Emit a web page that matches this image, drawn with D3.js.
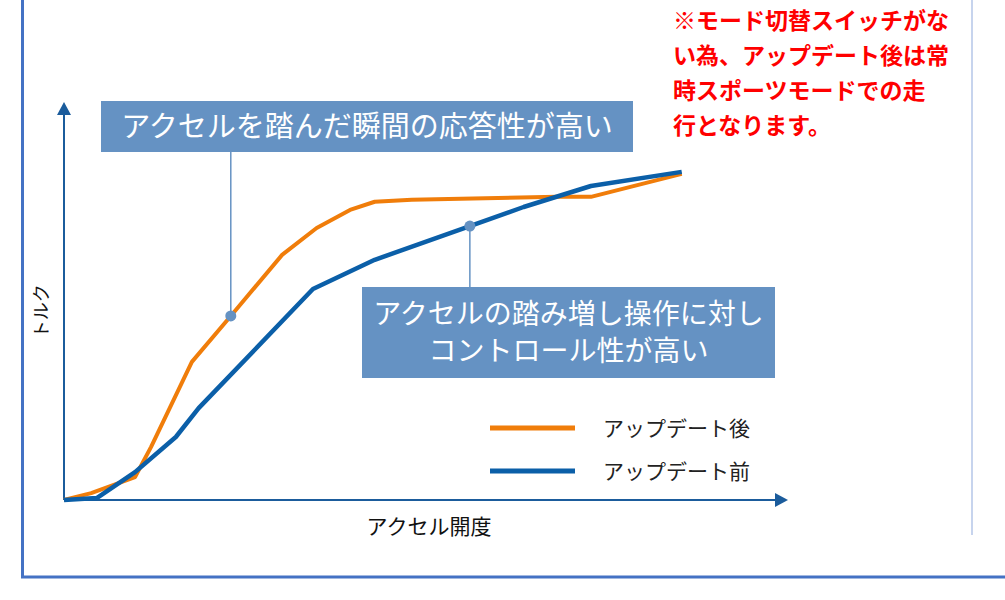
<!DOCTYPE html>
<html><head><meta charset="utf-8">
<script src="https://cdn.jsdelivr.net/npm/d3@7"></script>
<style>html,body{margin:0;padding:0;background:#fff;}svg{display:block;}</style>
</head><body>
<svg id="c" width="1005" height="600"></svg>
<script>
// Data: accelerator opening (0-100) vs torque (0-100)
const afterX = [0, 4.4, 11.5, 14.1, 20.7, 27.0, 35.3, 40.9, 46.3, 50.3, 56.3, 79.8, 85.3, 100];
const afterY = [0, 2.1, 7.0, 16.2, 42.1, 56.1, 74.7, 82.9, 88.4, 90.9, 91.5, 92.4, 92.4, 99.4];
const beforeX = [0, 5.3, 11.5, 18.1, 21.8, 40.3, 50.3, 65.7, 74.4, 85.3, 100];
const beforeY = [0, 0.6, 8.5, 19.2, 28.0, 64.3, 73.2, 83.5, 89.3, 95.7, 100];
const seriesNames = ["アップデート後", "アップデート前"];
const xAxisLabel = "アクセル開度";
const yAxisLabel = "トルク";
const callout1 = ["アクセルを踏んだ瞬間の応答性が高い"];
const callout1Point = [27.0, 56.1];
const callout2 = ["アクセルの踏み増し操作に対し", "コントロール性が高い"];
const callout2Point = [65.7, 83.5];
const noteLines = ["※モード切替スイッチがな", "い為、アップデート後は常", "時スポーツモードでの走", "行となります。"];

const svg = d3.select("#c");
const orange = "#F07D0A", blue = "#0B5FA8", axisC = "#1B5C9C", boxC = "#6592C3";

const x = d3.scaleLinear().domain([0, 117.2]).range([64, 788]);
const y = d3.scaleLinear().domain([0, 121.3]).range([500, 102]);

// frame
svg.append("line").attr("x1", 22.5).attr("y1", 0).attr("x2", 22.5).attr("y2", 578).attr("stroke", "#4472C4").attr("stroke-width", 3);
svg.append("line").attr("x1", 21).attr("y1", 577).attr("x2", 1005).attr("y2", 577).attr("stroke", "#4472C4").attr("stroke-width", 3);
svg.append("line").attr("x1", 972).attr("y1", 0).attr("x2", 972).attr("y2", 535).attr("stroke", "#8FA9DC").attr("stroke-width", 1);

// axes
const yMax = y.domain()[1], xMax = x.domain()[1];
svg.append("line").attr("x1", x(0)).attr("y1", y(0)).attr("x2", x(0)).attr("y2", y(yMax) + 10).attr("stroke", axisC).attr("stroke-width", 2);
svg.append("line").attr("x1", x(0)).attr("y1", y(0)).attr("x2", x(xMax) - 10).attr("y2", y(0)).attr("stroke", axisC).attr("stroke-width", 2);
svg.append("path").attr("d", `M${x(0)},${y(yMax)} l-7,13 l14,0 z`).attr("fill", axisC);
svg.append("path").attr("d", `M${x(xMax)},${y(0)} l-13,-7 l0,14 z`).attr("fill", axisC);

const jp = "'Noto Sans CJK JP', 'Noto Sans', sans-serif";
svg.append("text").attr("transform", `translate(48,${y(57.5)}) rotate(-90)`).attr("text-anchor", "middle")
  .attr("font-family", jp).attr("font-size", 18).attr("fill", "#111").text(yAxisLabel);
svg.append("text").attr("x", 429).attr("y", 534).attr("text-anchor", "middle")
  .attr("font-family", jp).attr("font-size", 21).attr("fill", "#111").text(xAxisLabel);

// lines
const line = d3.line().x(d => x(d[0])).y(d => y(d[1]));
const after = afterX.map((v, i) => [v, afterY[i]]);
const before = beforeX.map((v, i) => [v, beforeY[i]]);
svg.append("path").datum(after).attr("d", line).attr("fill", "none").attr("stroke", orange).attr("stroke-width", 4).attr("stroke-linejoin", "round");
svg.append("path").datum(before).attr("d", line).attr("fill", "none").attr("stroke", blue).attr("stroke-width", 4.5).attr("stroke-linejoin", "round");

// callouts
function callout(bx, by, bw, bh, lines, pt, lineTop, fs) {
  svg.append("line").attr("x1", x(pt[0])).attr("y1", y(pt[1])).attr("x2", x(pt[0])).attr("y2", lineTop).attr("stroke", boxC).attr("stroke-width", 1.5);
  svg.append("circle").attr("cx", x(pt[0])).attr("cy", y(pt[1])).attr("r", 5.5).attr("fill", boxC);
  svg.append("rect").attr("x", bx).attr("y", by).attr("width", bw).attr("height", bh).attr("fill", boxC);
  const lh = fs * 1.3;
  const start = by + bh / 2 - (lines.length - 1) * lh / 2;
  lines.forEach((t, i) => {
    svg.append("text").attr("x", bx + bw / 2).attr("y", start + i * lh).attr("dy", "0.36em").attr("text-anchor", "middle")
      .attr("font-family", jp).attr("font-size", fs).attr("fill", "#fff").text(t);
  });
}
callout(101, 101, 532, 51, callout1, callout1Point, 152, 29);
callout(362, 287, 413, 91, callout2, callout2Point, 287, 28);

// legend
const leg = [[seriesNames[0], orange, 428], [seriesNames[1], blue, 471]];
leg.forEach(([n, c, ly]) => {
  svg.append("line").attr("x1", 490).attr("x2", 575).attr("y1", ly).attr("y2", ly).attr("stroke", c).attr("stroke-width", 5);
  svg.append("text").attr("x", 603).attr("y", ly).attr("dy", "0.36em").attr("font-family", jp).attr("font-size", 21).attr("fill", "#222").text(n);
});

// red note
noteLines.forEach((t, i) => {
  svg.append("text").attr("x", 673).attr("y", 21 + i * 35).attr("dy", "0.36em").attr("font-family", jp).attr("font-weight", "bold")
    .attr("font-size", 23).attr("fill", "#FF0000").text(t);
});
</script>
</body></html>
